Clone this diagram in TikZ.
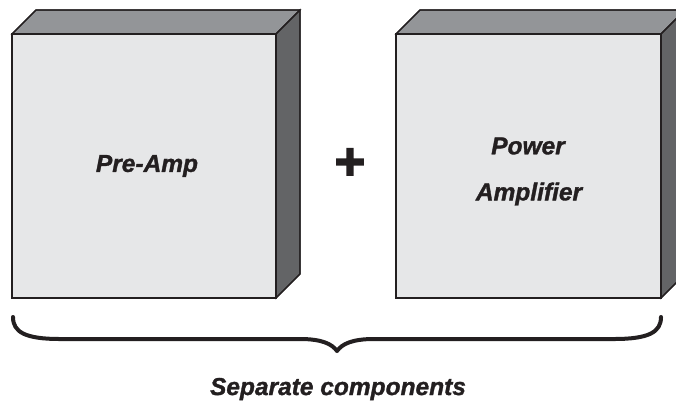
\documentclass[tikz,border=0pt]{standalone}
\usepackage{fontspec}
\setmainfont{Liberation Sans}
\newfontfamily\heavy{Liberation Sans}[BoldItalicFeatures={FakeBold=1.3}, BoldFeatures={FakeBold=3}]
\definecolor{frontc}{HTML}{E6E7E8}
\definecolor{topc}{HTML}{939598}
\definecolor{sidec}{HTML}{636466}
\definecolor{edgec}{HTML}{231F20}
\tikzset{
  face/.style={draw=edgec, line width=1.1pt, line join=miter},
  lbl/.style={font=\heavy\fontsize{24.5}{28}\selectfont\bfseries\itshape, text=edgec, inner sep=0pt},
}
\begin{document}
\begin{tikzpicture}[x=1pt,y=-1pt]
\useasboundingbox (0,0) rectangle (676,413);
% left box
\fill[face, fill=topc] (12,34) -- (36,10) -- (300,10) -- (276,34) -- cycle;
\fill[face, fill=sidec] (276,34) -- (300,10) -- (300,274) -- (276,298) -- cycle;
\fill[face, fill=frontc] (12,34) rectangle (276,298);
\draw[face] (12,34) -- (36,10) -- (300,10) -- (300,274) -- (276,298) -- (12,298) -- cycle;
\draw[face] (12,34) -- (276,34) -- (300,10) (276,34) -- (276,298);
% right box
\fill[face, fill=topc] (396,34) -- (420,10) -- (685,10) -- (661,34) -- cycle;
\fill[face, fill=sidec] (661,34) -- (685,10) -- (685,274) -- (661,298) -- cycle;
\fill[face, fill=frontc] (396,34) rectangle (661,298);
\draw[face] (396,34) -- (420,10) -- (685,10) -- (685,274) -- (661,298) -- (396,298) -- cycle;
\draw[face] (396,34) -- (661,34) -- (685,10) (661,34) -- (661,298);
% labels
\node[lbl] (pre) at (147,166) {Pre-Amp};
\node[lbl, font=\heavy\fontsize{52}{52}\selectfont\bfseries\upshape] (plus) at (350,164) {+};
\node[lbl] (pow) at (528,146) {Power};
\node[lbl] (amp) at (529,194) {Amplifier};
\node[lbl] (sep) at (338,389) {Separate components};
% brace
\draw[edgec, line width=4pt, line cap=round, line join=round]
  (13,317) .. controls (13,332) and (25,339) .. (60,339)
  -- (300,339) .. controls (322,339) and (332,344) .. (337,351)
  .. controls (342,344) and (352,339) .. (374,339)
  -- (614,339) .. controls (649,339) and (661,332) .. (661,317);
\end{tikzpicture}
\end{document}
